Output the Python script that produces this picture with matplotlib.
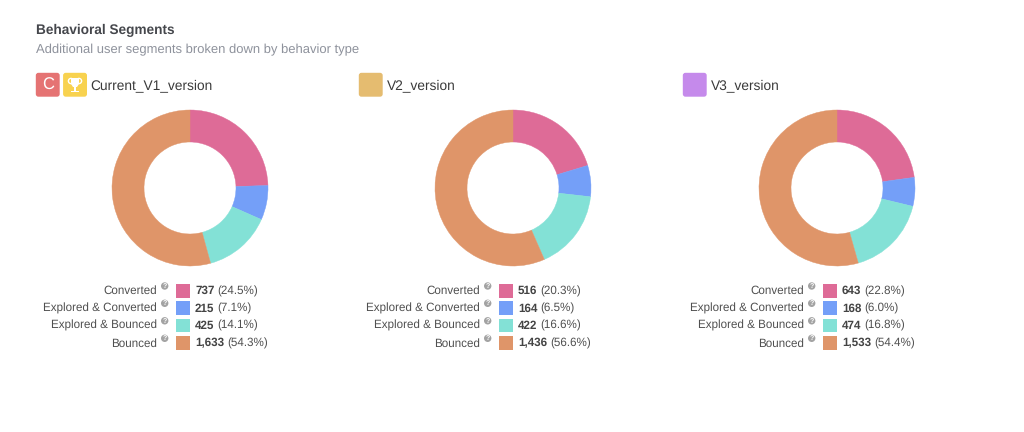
import matplotlib
matplotlib.use("Agg")
import matplotlib.pyplot as plt
from matplotlib.patches import FancyBboxPatch, Rectangle, Circle, Polygon

plt.rcParams["font.family"] = ["Liberation Sans", "DejaVu Sans"]
plt.rcParams["text.hinting"] = "no_hinting"
plt.rcParams["text.hinting_factor"] = 8

W, H = 1024, 432

segments = ["Converted", "Explored & Converted", "Explored & Bounced", "Bounced"]
colors = ["#DE6B97", "#749FF8", "#83E1D6", "#DF9569"]
versions = ["Current_V1_version", "V2_version", "V3_version"]
counts = [[737, 215, 425, 1633], [516, 164, 422, 1436], [643, 168, 474, 1533]]
count_labels = [["737", "215", "425", "1,633"], ["516", "164", "422", "1,436"], ["643", "168", "474", "1,533"]]
pct_labels = [["(24.5%)", "(7.1%)", "(14.1%)", "(54.3%)"],
              ["(20.3%)", "(6.5%)", "(16.6%)", "(56.6%)"],
              ["(22.8%)", "(6.0%)", "(16.8%)", "(54.4%)"]]
badge_colors = ["#E57373", "#E5BC70", "#C58AEB"]

centers_x = [190, 513, 837]
center_y = 188
radius = 78
badge_x = [36, 359, 683]
title_x = [90.5, 387, 711]
label_right = [157, 480, 804]
help_x = [164.7, 487.7, 811.7]
swatch_x = [176, 499, 823]
value_x = [195, 518, 842]
row_y = [291, 308.3, 325.8, 343.3]

fig = plt.figure(figsize=(W / 100, H / 100), dpi=100, facecolor="white")

# overlay in pixel coords
ax = fig.add_axes([0, 0, 1, 1])
ax.set_xlim(0, W)
ax.set_ylim(H, 0)
ax.axis("off")


def badge(x, color, w=23.5):
    ax.add_patch(FancyBboxPatch((x + 0.5, 73.5), w - 1, 22.5, boxstyle="round,pad=0,rounding_size=2",
                                mutation_aspect=1, fc=color, ec=color, lw=1))


ax.text(36, 30, "Behavioral Segments", fontsize=9.8, fontweight="bold", color="#45474C", va="center")
ax.text(36, 50, "Additional user segments broken down by behavior type", fontsize=9.4, color="#8E929C", va="center")

for i, name in enumerate(versions):
    badge(badge_x[i], badge_colors[i])
    ax.text(title_x[i], 85.5, name, fontsize=9.95, color="#3A3A3A", va="center")

    pie_ax = fig.add_axes([(centers_x[i] - radius - 1) / W, 1 - (center_y + radius + 1) / H,
                           (2 * radius + 2) / W, (2 * radius + 2) / H])
    wedges, _ = pie_ax.pie(counts[i], colors=colors, startangle=90, counterclock=False, radius=1,
                           wedgeprops={"width": 32 / 78, "linewidth": 0.3})
    # same colour edge so no white seams between slices
    for w, c in zip(wedges, colors):
        w.set_edgecolor(c)
    pie_ax.set_xlim(-79 / 78, 79 / 78)
    pie_ax.set_ylim(-79 / 78, 79 / 78)

    for j, seg in enumerate(segments):
        y = row_y[j]
        ax.text(label_right[i], y, seg, fontsize=8.4, color="#505050", ha="right", va="center")
        ax.add_patch(Circle((help_x[i], y - 5), 3.7, fc="#A3A3A3", ec="none"))
        ax.text(help_x[i], y - 5, "?", fontsize=5, color="white", ha="center", va="center", fontweight="bold")
        ax.add_patch(Rectangle((swatch_x[i], y - 7), 14, 13.5, fc=colors[j], ec="none"))
        t = ax.text(value_x[i], y, count_labels[i][j], fontsize=8.4, fontweight="bold", color="#444444", va="center")
        bb = t.get_window_extent(fig.canvas.get_renderer())
        ax.text(bb.x1 + 3, y, pct_labels[i][j], fontsize=8.4, color="#505050", va="center")

# champion badge with trophy
badge(63.3, "#F8D24F")
ax.text(47.8, 85, "C", fontsize=12, color="white", ha="center", va="center")
ax.add_patch(Polygon([(71, 78), (79, 78), (79, 84), (77, 87), (73, 87), (71, 84)], fc="white", ec="none"))
ax.add_patch(Circle((71, 81), 2.6, fc="none", ec="white", lw=1))
ax.add_patch(Circle((79, 81), 2.6, fc="none", ec="white", lw=1))
ax.add_patch(Rectangle((74, 87), 2, 3.5, fc="white", ec="none"))
ax.add_patch(Rectangle((71, 90.5), 8, 1.6, fc="white", ec="none"))

fig.savefig("out.png", dpi=100)
